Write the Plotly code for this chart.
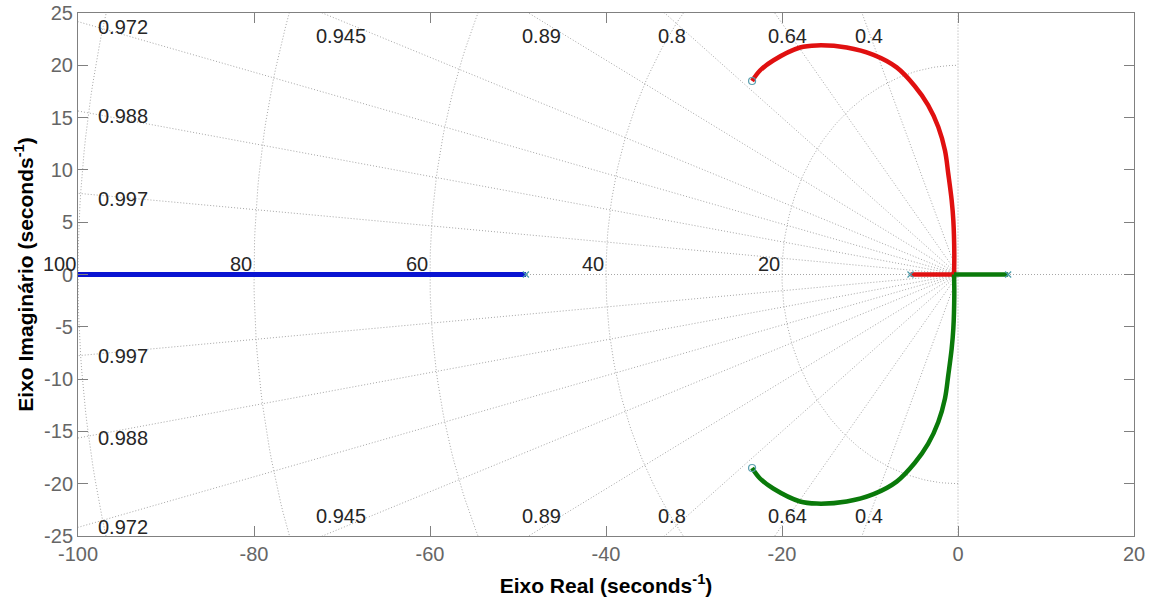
import numpy as np
import plotly.graph_objects as go

# s-plane grid: damping ratios and natural frequencies
zeta_values = [0.4, 0.64, 0.8, 0.89, 0.945, 0.972, 0.988, 0.997]
wn_values = [20, 40, 60, 80, 100]

# root-locus branches (real part, imaginary part)
blue_re = [-120, -49.1]
blue_im = [0, 0]

red_axis_re = [-5.4, -0.45]
red_axis_im = [0, 0]
red_arc_re = [-0.45, -0.42, -0.53, -0.72, -1.1, -1.48, -2.24, -3.4, -4.9,
              -6.97, -9.6, -12.65, -16.06, -17.95, -21.0, -22.5, -23.4]
red_arc_im = [0, 1.97, 5.16, 7.1, 9.6, 11.85, 14.1, 16.2, 18.0,
              19.8, 21.0, 21.7, 21.9, 21.7, 20.46, 19.5, 18.5]

green_axis_re = [5.7, -0.45]
green_axis_im = [0, 0]
green_arc_re = [-0.45, -0.42, -0.53, -0.72, -1.1, -1.48, -2.24, -3.4, -4.9,
                -6.97, -9.6, -12.65, -16.06, -17.95, -21.0, -22.5, -23.4]
green_arc_im = [0, -1.97, -5.16, -7.1, -9.6, -11.85, -14.1, -16.2, -18.0,
                -19.8, -21.0, -21.7, -21.9, -21.7, -20.46, -19.5, -18.5]

# open-loop poles and zeros
pole_re = [-49.1, -5.4, 5.7]
pole_im = [0, 0, 0]
zero_re = [-23.4, -23.4]
zero_im = [18.5, -18.5]

x_ticks = [-100, -80, -60, -40, -20, 0, 20]
x_tick_labels = ["-100", "-80", "-60", "-40", "-20", "0", "20"]
y_ticks = [-25, -20, -15, -10, -5, 0, 5, 10, 15, 20, 25]
y_tick_labels = ["-25", "-20", "-15", "-10", "-5", "0", "5", "10", "15", "20", "25"]
X_MIN, X_MAX, Y_MIN, Y_MAX = -100, 20, -25, 25

GRID = "#a6a6a6"
BLUE = "#0a14d2"
RED = "#e01010"
GREEN = "#0a7a0a"

fig = go.Figure()

# constant-damping rays (plus both axes)
gx, gy = [], []
for z in zeta_values:
    s = np.sqrt(1 - z * z)
    for sign in (1, -1):
        gx += [0, -300 * z, None]
        gy += [0, sign * 300 * s, None]
gx += [X_MIN - 10, X_MAX + 10, None, 0, 0, None]
gy += [0, 0, None, Y_MIN - 10, Y_MAX + 10, None]

# constant natural-frequency semicircles
theta = np.linspace(-np.pi / 2, np.pi / 2, 241)
for wn in wn_values:
    gx += list(-wn * np.cos(theta)) + [None]
    gy += list(wn * np.sin(theta)) + [None]

fig.add_trace(go.Scatter(x=gx, y=gy, mode="lines",
                         line=dict(color=GRID, width=1, dash="1px,2px"),
                         hoverinfo="skip", showlegend=False))

# branches
fig.add_trace(go.Scatter(x=blue_re, y=blue_im, mode="lines",
                         line=dict(color=BLUE, width=5), showlegend=False))
fig.add_trace(go.Scatter(x=red_axis_re, y=red_axis_im, mode="lines",
                         line=dict(color=RED, width=4.5), showlegend=False))
fig.add_trace(go.Scatter(x=red_arc_re, y=red_arc_im, mode="lines",
                         line=dict(color=RED, width=4.5, shape="spline"),
                         showlegend=False))
fig.add_trace(go.Scatter(x=green_axis_re, y=green_axis_im, mode="lines",
                         line=dict(color=GREEN, width=4.5), showlegend=False))
fig.add_trace(go.Scatter(x=green_arc_re, y=green_arc_im, mode="lines",
                         line=dict(color=GREEN, width=4.5, shape="spline"),
                         showlegend=False))

# poles (x) and zeros (o)
fig.add_trace(go.Scatter(x=pole_re, y=pole_im, mode="markers",
                         marker=dict(symbol="x-thin", size=6,
                                     line=dict(color="#4a9aa8", width=1.2)),
                         showlegend=False))
fig.add_trace(go.Scatter(x=zero_re, y=zero_im, mode="markers",
                         marker=dict(symbol="circle-open", size=7,
                                     color="#5a9fae", line=dict(width=1.2)),
                         showlegend=False))

# grid labels
LABEL_FONT = dict(family="Liberation Sans, Arial, sans-serif", size=20, color="#262626")
ann = []
for wn in wn_values:
    ann.append(dict(x=-wn, y=1.0, text=str(wn), showarrow=False,
                    xanchor="right", yanchor="middle", font=LABEL_FONT))
for z in zeta_values:
    t = np.sqrt(1 - z * z) / z
    if 100 * t < Y_MAX:
        ann.append(dict(x=-98, y=100 * t - 0.5, text=str(z), showarrow=False,
                        xanchor="left", yanchor="middle", font=LABEL_FONT))
        ann.append(dict(x=-98, y=-100 * t, text=str(z), showarrow=False,
                        xanchor="left", yanchor="middle", font=LABEL_FONT))
    else:
        xe = -Y_MAX / t - 1
        ann.append(dict(x=xe, y=22.8, text=str(z), showarrow=False,
                        xanchor="left", yanchor="middle", font=LABEL_FONT))
        ann.append(dict(x=xe, y=-23.1, text=str(z), showarrow=False,
                        xanchor="left", yanchor="middle", font=LABEL_FONT))

AXIS_COLOR = "#808080"
TICK_FONT = dict(family="Liberation Sans, Arial, sans-serif", size=20, color="#666666")
TITLE_FONT = dict(family="Liberation Sans, Arial, sans-serif", size=21, color="#000000")

fig.update_layout(
    width=1153, height=605,
    margin=dict(l=78, r=19, t=13, b=69),
    paper_bgcolor="white", plot_bgcolor="white",
    annotations=ann,
    xaxis=dict(range=[X_MIN, X_MAX], tickvals=x_ticks, ticktext=x_tick_labels,
               ticks="inside", ticklen=10, automargin=False,
               showgrid=False, zeroline=False, showline=True, mirror="ticks",
               linecolor=AXIS_COLOR, tickcolor=AXIS_COLOR, linewidth=1,
               tickfont=TICK_FONT,
               title=dict(text="<b>Eixo Real (seconds<sup>-1</sup>)</b>",
                          font=TITLE_FONT, standoff=14)),
    yaxis=dict(range=[Y_MIN, Y_MAX], tickvals=y_ticks, ticktext=y_tick_labels,
               ticks="inside", ticklen=10, automargin=False,
               showgrid=False, zeroline=False, showline=True, mirror="ticks",
               linecolor=AXIS_COLOR, tickcolor=AXIS_COLOR, linewidth=1,
               tickfont=TICK_FONT,
               title=dict(text="<b>Eixo Imaginário (seconds<sup>-1</sup>)</b>",
                          font=TITLE_FONT, standoff=4)),
)

fig.write_html("out.html")
